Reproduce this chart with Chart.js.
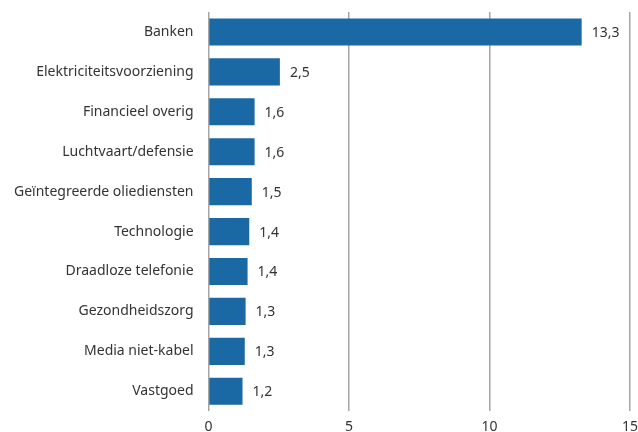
<!DOCTYPE html>
<html>
<head>
<meta charset="utf-8">
<script src="https://cdn.jsdelivr.net/npm/chart.js@4/dist/chart.umd.min.js"></script>
<style>
  html, body { margin: 0; padding: 0; background: #fff; }
  #wrap { width: 638px; height: 432px; position: relative; }
</style>
</head>
<body>
<div id="wrap"><canvas id="sectorChart"></canvas></div>
<script>
// Sectors and their weight
const categories = [
  'Banken',
  'Elektriciteitsvoorziening',
  'Financieel overig',
  'Luchtvaart/defensie',
  'Geïntegreerde oliediensten',
  'Technologie',
  'Draadloze telefonie',
  'Gezondheidszorg',
  'Media niet-kabel',
  'Vastgoed'
];
const values = [13.28, 2.54, 1.64, 1.64, 1.54, 1.45, 1.39, 1.32, 1.29, 1.21];
const xTicks = [0, 5, 10, 15];

const barColor = '#1b69a4';
const textColor = '#333333';
const fontFamily = "'Noto Sans', 'Open Sans', sans-serif";

// Draw value labels next to each bar, Dutch decimal comma
const valueLabels = {
  id: 'valueLabels',
  afterDatasetsDraw(chart) {
    const { ctx } = chart;
    const meta = chart.getDatasetMeta(0);
    ctx.save();
    ctx.font = '14px ' + fontFamily;
    ctx.fillStyle = textColor;
    ctx.textAlign = 'left';
    ctx.textBaseline = 'middle';
    meta.data.forEach((bar, i) => {
      const txt = values[i].toFixed(1).replace('.', ',');
      ctx.fillText(txt, bar.x + 10, bar.y + 1);
    });
    ctx.restore();
  }
};

new Chart(document.getElementById('sectorChart'), {
  type: 'bar',
  data: {
    labels: categories,
    datasets: [{
      data: values,
      backgroundColor: barColor,
      borderWidth: 0,
      categoryPercentage: 1,
      barPercentage: 0.68
    }]
  },
  options: {
    indexAxis: 'y',
    responsive: true,
    maintainAspectRatio: false,
    animation: false,
    layout: { padding: { top: 12, right: 2, bottom: -3, left: 14 } },
    plugins: {
      legend: { display: false },
      tooltip: { enabled: false }
    },
    scales: {
      x: {
        min: 0,
        max: 15,
        afterBuildTicks: (axis) => { axis.ticks = xTicks.map(v => ({ value: v })); },
        // invisible tick marks give the gap under the plot
        grid: { color: '#a6a6a6', lineWidth: 1.5, drawTicks: true, tickLength: 7, tickColor: 'rgba(0,0,0,0)' },
        border: { display: false },
        ticks: {
          color: textColor,
          font: { size: 14, family: fontFamily },
          padding: 0,
          maxRotation: 0
        }
      },
      y: {
        grid: { display: true, color: 'rgba(0,0,0,0)', drawTicks: true, tickLength: 15 },
        border: { display: false },
        ticks: {
          color: textColor,
          font: { size: 14, family: fontFamily },
          padding: 0
        }
      }
    }
  },
  plugins: [valueLabels]
});
</script>
</body>
</html>
